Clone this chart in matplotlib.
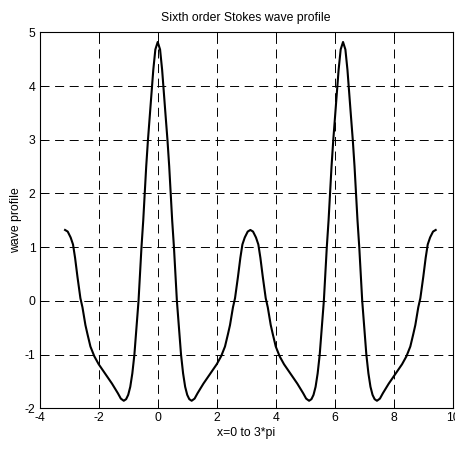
import matplotlib
matplotlib.use("Agg")
import matplotlib.pyplot as plt

plt.rcParams['font.family'] = ['Liberation Sans', 'DejaVu Sans']
plt.rcParams['lines.scale_dashes'] = False

# Data (x from -pi to 3*pi)
x_vals = [
    -3.14, -3.05, -2.95, -2.87, -2.80, -2.72, -2.62, -2.55, -2.45, -2.38,
    -2.28, -2.15, -2.00, -1.85, -1.70, -1.55, -1.45, -1.35, -1.25, -1.15,
    -1.07, -1.00, -0.93, -0.86, -0.79, -0.72, -0.65, -0.60, -0.55, -0.49,
    -0.44, -0.39, -0.33, -0.26, -0.19, -0.15, -0.08,
    0.00, 0.08, 0.15, 0.19, 0.26, 0.33, 0.39, 0.44, 0.49, 0.55,
    0.60, 0.65, 0.72, 0.79, 0.86, 0.93, 1.00, 1.07, 1.15, 1.25,
    1.35, 1.45, 1.55, 1.70, 1.85, 2.00, 2.15, 2.28, 2.38, 2.45,
    2.55, 2.62, 2.72, 2.80, 2.87, 2.95, 3.05, 3.14,
    3.23, 3.33, 3.41, 3.48, 3.56, 3.66, 3.73, 3.83, 3.90, 4.00,
    4.13, 4.28, 4.43, 4.58, 4.73, 4.83, 4.93, 5.03, 5.13, 5.21,
    5.28, 5.35, 5.42, 5.49, 5.56, 5.63, 5.68, 5.73, 5.79, 5.84,
    5.89, 5.95, 6.02, 6.09, 6.13, 6.20, 6.28,
    6.36, 6.43, 6.47, 6.54, 6.61, 6.67, 6.72, 6.77, 6.83, 6.88,
    6.93, 7.00, 7.07, 7.14, 7.21, 7.28, 7.35, 7.43, 7.53, 7.63,
    7.73, 7.83, 7.98, 8.13, 8.28, 8.43, 8.56, 8.66, 8.73, 8.83,
    8.90, 9.00, 9.08, 9.15, 9.23, 9.33, 9.42,
]
y_vals = [
    1.32, 1.29, 1.18, 1.05, 0.80, 0.45, 0.05, -0.12, -0.45, -0.62,
    -0.85, -1.03, -1.18, -1.30, -1.42, -1.54, -1.63, -1.72, -1.82, -1.86,
    -1.83, -1.75, -1.60, -1.35, -1.00, -0.50, 0.00, 0.50, 1.00, 1.50,
    2.00, 2.50, 3.00, 3.50, 4.00, 4.30, 4.68,
    4.82, 4.68, 4.30, 4.00, 3.50, 3.00, 2.50, 2.00, 1.50, 1.00,
    0.50, 0.00, -0.50, -1.00, -1.35, -1.60, -1.75, -1.83, -1.86, -1.82,
    -1.72, -1.63, -1.54, -1.42, -1.30, -1.18, -1.03, -0.85, -0.62, -0.45,
    -0.12, 0.05, 0.45, 0.80, 1.05, 1.18, 1.29, 1.32,
    1.29, 1.18, 1.05, 0.80, 0.45, 0.05, -0.12, -0.45, -0.62, -0.85,
    -1.03, -1.18, -1.30, -1.42, -1.54, -1.63, -1.72, -1.82, -1.86, -1.83,
    -1.75, -1.60, -1.35, -1.00, -0.50, 0.00, 0.50, 1.00, 1.50, 2.00,
    2.50, 3.00, 3.50, 4.00, 4.30, 4.68, 4.82,
    4.68, 4.30, 4.00, 3.50, 3.00, 2.50, 2.00, 1.50, 1.00, 0.50,
    0.00, -0.50, -1.00, -1.35, -1.60, -1.75, -1.83, -1.86, -1.82, -1.72,
    -1.63, -1.54, -1.42, -1.30, -1.18, -1.03, -0.85, -0.62, -0.45, -0.12,
    0.05, 0.45, 0.80, 1.05, 1.18, 1.29, 1.32,
]
x_ticks = [-4, -2, 0, 2, 4, 6, 8, 10]
y_ticks = [-2, -1, 0, 1, 2, 3, 4, 5]

fig = plt.figure(figsize=(4.56, 4.50), dpi=100)
ax = fig.add_axes([0.087, 0.0927, 0.906, 0.8355])

ax.plot(x_vals, y_vals, color='black', linewidth=1.5)

ax.set_xlim(-4, 10)
ax.set_ylim(-2, 5)
ax.set_xticks(x_ticks)
ax.set_yticks(y_ticks)
ax.set_xticklabels([str(t) for t in x_ticks])
ax.set_yticklabels([str(t) for t in y_ticks])

ax.grid(True, color='black', linestyle=(0, (6.5, 4.0)), linewidth=0.7)
ax.tick_params(direction='in', length=3.5, width=0.7, labelsize=8.8,
               top=True, right=True, pad=3, colors='black')
for s in ax.spines.values():
    s.set_linewidth(0.8)
    s.set_color('black')

ax.set_title('Sixth order Stokes wave profile', fontsize=8.8, pad=8)
ax.set_xlabel('x=0 to 3*pi', fontsize=8.8, labelpad=2)
ax.set_ylabel('wave profile', fontsize=8.8, labelpad=2)

fig.savefig('out.png', dpi=100)
